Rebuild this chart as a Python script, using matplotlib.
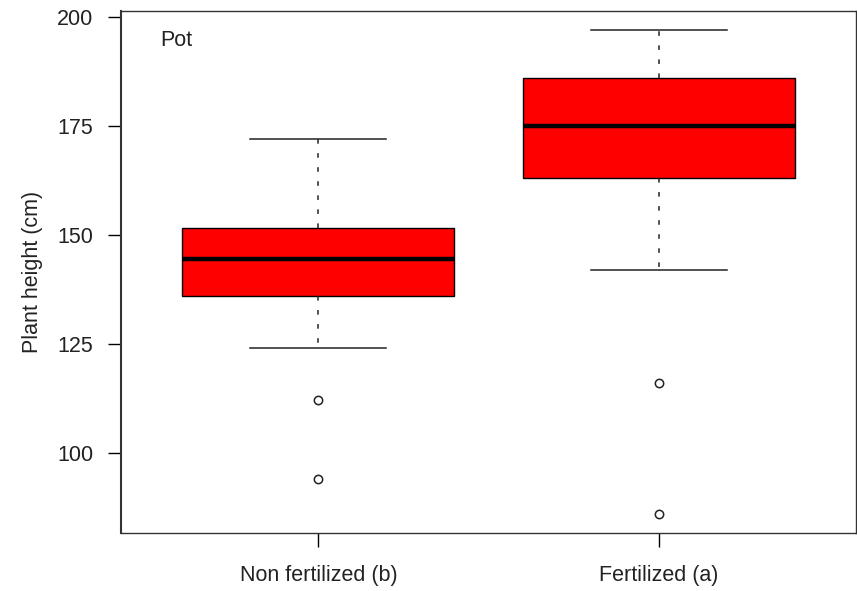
import matplotlib
matplotlib.use("Agg")
import matplotlib.pyplot as plt

plt.rcParams["font.family"] = ["Liberation Sans", "DejaVu Sans"]

# plant height summary per treatment (cm)
groups = ["Non fertilized (b)", "Fertilized (a)"]
whisker_low = [124, 142]
q1 = [136, 163]
median = [144.5, 175]
q3 = [151.5, 186]
whisker_high = [172, 197]
outliers = [[112, 94], [116, 86]]

stats = [
    {"whislo": lo, "q1": a, "med": m, "q3": b, "whishi": hi, "fliers": fl, "label": g}
    for g, lo, a, m, b, hi, fl in zip(groups, whisker_low, q1, median, q3, whisker_high, outliers)
]

fs = 15.5
fig = plt.figure(figsize=(8.57, 5.91), dpi=100)
ax = fig.add_axes([121 / 857, 58 / 591, 735 / 857, 522 / 591])

ax.bxp(
    stats,
    positions=[1, 2],
    widths=0.8,
    patch_artist=True,
    boxprops=dict(facecolor="#ff0000", edgecolor="black", linewidth=1.0),
    medianprops=dict(color="black", linewidth=3.2, solid_capstyle="butt"),
    whiskerprops=dict(color="#222222", linewidth=1.1, linestyle=(0, (3.0, 6.2))),
    capprops=dict(color="#222222", linewidth=1.1),
    capwidths=0.4,
    flierprops=dict(marker="o", markersize=6, markerfacecolor="none",
                    markeredgecolor="#222222", markeredgewidth=1.1),
)

ax.set_xlim(0.42, 2.58)
ax.set_ylim(81.56, 201.44)
ax.set_yticks([100, 125, 150, 175, 200])
ax.set_xticks([1, 2])
ax.set_xticklabels(groups)
ax.tick_params(axis="y", length=9.4, width=1.0, pad=10.5, labelsize=fs, labelcolor="#222222")
ax.tick_params(axis="x", length=10, width=1.0, pad=13, labelsize=fs, labelcolor="#222222")
for sp in ax.spines.values():
    sp.set_linewidth(1.0)
    sp.set_color("#333333")
ax.spines["left"].set_linewidth(1.5)

ax.set_ylabel("Plant height (cm)", fontsize=fs, labelpad=10.5, color="#222222")
ax.text(0.054, 0.944, "Pot", transform=ax.transAxes, fontsize=fs, ha="left", va="center",
        color="#222222")

fig.savefig("out.png", dpi=100)
